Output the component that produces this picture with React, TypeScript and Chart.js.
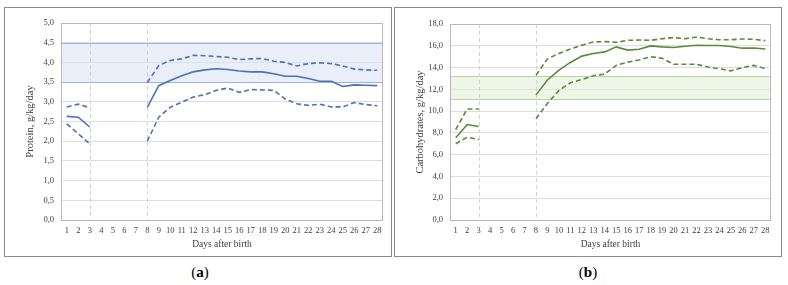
import React, { useEffect, useRef } from "react";
import { Chart, registerables } from "chart.js";

Chart.register(...registerables);

const days = Array.from({ length: 28 }, (_, i) => String(i + 1));

// Panel (a): protein, g/kg/day
const proteinMean = [2.63, 2.61, 2.36, null, null, null, null, 2.86, 3.41, 3.54, 3.66, 3.76, 3.81, 3.84, 3.82, 3.78, 3.76, 3.76, 3.71, 3.65, 3.65, 3.59, 3.52, 3.52, 3.39, 3.43, 3.42, 3.41];
const proteinUpper = [2.87, 2.94, 2.85, null, null, null, null, 3.49, 3.92, 4.05, 4.09, 4.18, 4.17, 4.15, 4.13, 4.07, 4.09, 4.1, 4.03, 4.0, 3.91, 3.97, 3.99, 3.97, 3.91, 3.83, 3.81, 3.8];
const proteinLower = [2.44, 2.19, 1.93, null, null, null, null, 2.0, 2.61, 2.86, 2.99, 3.12, 3.18, 3.29, 3.35, 3.24, 3.31, 3.3, 3.29, 3.07, 2.95, 2.91, 2.94, 2.87, 2.87, 2.98, 2.93, 2.9];
const proteinBand = [3.5, 4.5];

// Panel (b): carbohydrates, g/kg/day
const carbMean = [7.55, 8.77, 8.58, null, null, null, null, 11.49, 12.86, 13.77, 14.47, 15.05, 15.29, 15.44, 15.9, 15.6, 15.68, 15.99, 15.9, 15.84, 15.96, 16.05, 16.02, 16.02, 15.93, 15.78, 15.8, 15.71];
const carbUpper = [8.3, 10.2, 10.2, null, null, null, null, 13.3, 14.8, 15.29, 15.7, 16.05, 16.35, 16.38, 16.32, 16.5, 16.53, 16.5, 16.65, 16.75, 16.65, 16.8, 16.65, 16.56, 16.56, 16.62, 16.6, 16.47];
const carbLower = [7.0, 7.6, 7.38, null, null, null, null, 9.3, 10.7, 11.9, 12.6, 12.9, 13.25, 13.4, 14.2, 14.5, 14.7, 15.0, 14.85, 14.3, 14.3, 14.3, 14.05, 13.9, 13.7, 14.0, 14.2, 13.9];
const carbBand = [11.1, 13.2];

const markerDays = ["3", "8"];

const SERIF = "'Liberation Serif', 'DejaVu Serif', serif";

type PanelProps = {
  mean: (number | null)[];
  upper: (number | null)[];
  lower: (number | null)[];
  band: number[];
  yMax: number;
  yStep: number;
  yTitle: string;
  color: string;
  bandFill: string;
  bandBorder: string;
  padTop: number;
  padRight: number;
  yWidth: number;
};

function Panel(p: PanelProps) {
  const ref = useRef<HTMLCanvasElement | null>(null);
  useEffect(() => {
    if (!ref.current) return;
    const overlay = {
      id: "overlay",
      beforeDatasetsDraw(chart: any) {
        const { ctx, chartArea: a, scales } = chart;
        const y = scales.y;
        const x = scales.x;
        ctx.save();
        const yt = y.getPixelForValue(p.band[1]);
        const yb = y.getPixelForValue(p.band[0]);
        ctx.fillStyle = p.bandFill;
        ctx.fillRect(a.left, yt, a.right - a.left, yb - yt);
        ctx.strokeStyle = p.bandBorder;
        ctx.lineWidth = 1;
        ctx.strokeRect(a.left + 0.5, Math.round(yt) + 0.5, a.right - a.left - 1, Math.round(yb - yt));
        ctx.strokeStyle = "#d2d2d2";
        ctx.setLineDash([4, 3]);
        markerDays.forEach((d) => {
          const px = Math.round(x.getPixelForValue(days.indexOf(d))) + 0.5;
          ctx.beginPath();
          ctx.moveTo(px, a.top);
          ctx.lineTo(px, a.bottom);
          ctx.stroke();
        });
        ctx.setLineDash([]);
        ctx.strokeStyle = "#b8b8b8";
        ctx.strokeRect(Math.round(a.left) + 0.5, Math.round(a.top) + 0.5, Math.round(a.right - a.left) - 1, Math.round(a.bottom - a.top));
        ctx.restore();
      },
    };
    const dashed = [5, 3];
    const chart = new Chart(ref.current, {
      type: "line",
      data: {
        labels: days,
        datasets: [
          { data: p.upper, borderColor: p.color, borderWidth: 1.6, borderDash: dashed, pointRadius: 0, spanGaps: false, tension: 0 },
          { data: p.mean, borderColor: p.color, borderWidth: 1.6, pointRadius: 0, spanGaps: false, tension: 0 },
          { data: p.lower, borderColor: p.color, borderWidth: 1.6, borderDash: dashed, pointRadius: 0, spanGaps: false, tension: 0 },
        ],
      },
      options: {
        responsive: false,
        animation: false,
        events: [],
        layout: { padding: { left: 0, top: p.padTop, right: p.padRight, bottom: 0 } },
        plugins: { legend: { display: false }, tooltip: { enabled: false } },
        scales: {
          x: {
            type: "category",
            offset: true,
            grid: { display: false, drawTicks: false },
            border: { display: false },
            ticks: { color: "#404040", font: { family: SERIF, size: 8.5 }, padding: 6, maxRotation: 0, autoSkip: false },
            title: { display: true, text: "Days after birth", color: "#404040", font: { family: SERIF, size: 9.5 }, padding: { top: 2, bottom: 6 } },
            afterFit: (s: any) => { s.height = 36; },
          },
          y: {
            min: 0,
            max: p.yMax,
            grid: { color: "#dddddd", drawTicks: false },
            border: { display: false },
            ticks: {
              stepSize: p.yStep,
              color: "#404040",
              padding: 7,
              font: { family: SERIF, size: 8.5 },
              callback: (v: any) => Number(v).toFixed(1).replace(".", ","),
            },
            title: { display: true, text: p.yTitle, color: "#404040", font: { family: SERIF, size: 10.5 }, padding: { top: 19, bottom: 0 } },
            afterFit: (s: any) => { s.width = p.yWidth; },
          },
        },
      },
      plugins: [overlay],
    });
    return () => chart.destroy();
  }, []);
  return <canvas ref={ref} width={386} height={248} style={{ display: "block" }} />;
}

export default function App() {
  const box: React.CSSProperties = {
    position: "absolute",
    top: 7,
    width: 386,
    height: 248,
    border: "1px solid #8c8c8c",
    background: "#fff",
  };
  const cap: React.CSSProperties = {
    position: "absolute",
    top: 264,
    width: 60,
    textAlign: "center",
    fontFamily: SERIF,
    fontSize: 15,
    color: "#000",
  };
  return (
    <div style={{ position: "fixed", left: 0, top: 0, width: 788, height: 285, background: "#fff" }}>
      <div style={{ ...box, left: 4 }}>
        <Panel mean={proteinMean} upper={proteinUpper} lower={proteinLower} band={proteinBand} yMax={5} yStep={0.5}
          yTitle="Protein, g/kg/day" color="#4a72b8" bandFill="rgba(218,227,243,0.6)" bandBorder="#9db3dc"
          padTop={15} padRight={8} yWidth={56} />
      </div>
      <div style={{ ...box, left: 394 }}>
        <Panel mean={carbMean} upper={carbUpper} lower={carbLower} band={carbBand} yMax={18} yStep={2}
          yTitle="Carbohydrates, g/kg/day" color="#5a8a3c" bandFill="rgba(226,240,217,0.6)" bandBorder="#b5d4a0"
          padTop={16} padRight={10} yWidth={55} />
      </div>
      <div style={{ ...cap, left: 170 }}>(<b>a</b>)</div>
      <div style={{ ...cap, left: 558 }}>(<b>b</b>)</div>
    </div>
  );
}
